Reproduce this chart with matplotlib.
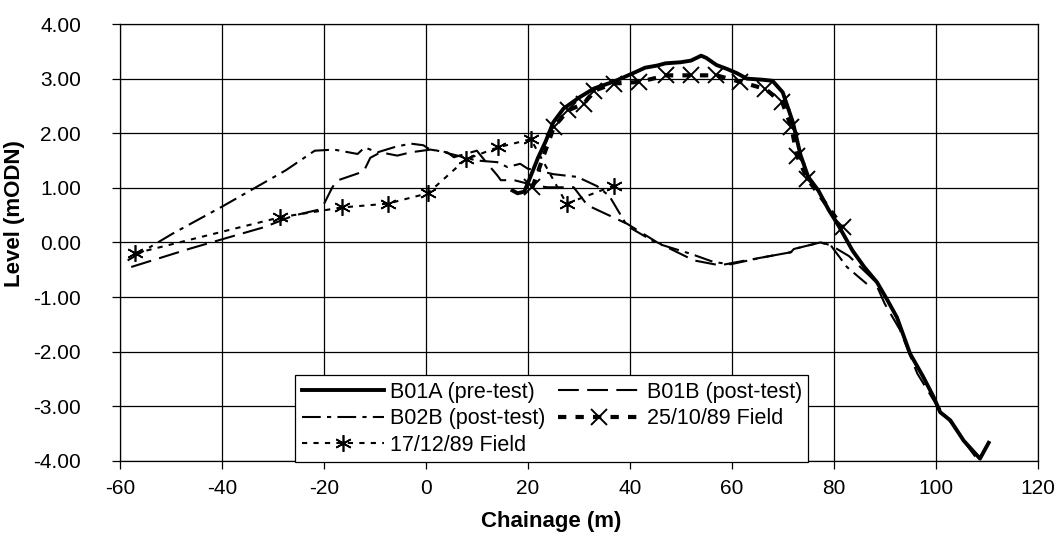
import numpy as np
import matplotlib.pyplot as plt

plt.rcParams['font.family'] = ['Liberation Sans', 'DejaVu Sans']
plt.rcParams['axes.unicode_minus'] = False

# B01A (pre-test) - thick solid
b01a_x = [17, 18, 19.3, 20.5, 22, 23.5, 25, 27, 30, 33, 37, 40.9, 43, 45.4, 47, 50, 52, 54, 55,
          57, 59, 61, 63, 66, 68, 70, 72, 73.5, 75, 77, 79, 81, 83.7, 86, 88.5, 90.5, 92.4, 95,
          97.5, 99.6, 100.9, 102.9, 105.5, 108.7, 110.4]
b01a_y = [0.95, 0.9, 0.93, 1.2, 1.55, 1.85, 2.2, 2.45, 2.65, 2.82, 2.95, 3.11, 3.2, 3.24, 3.28, 3.3,
          3.33, 3.42, 3.38, 3.25, 3.18, 3.1, 3.0, 2.98, 2.96, 2.75, 2.2, 1.6, 1.2, 0.95, 0.6, 0.3,
          -0.15, -0.45, -0.73, -1.05, -1.37, -2.04, -2.45, -2.83, -3.11, -3.26, -3.63, -3.96, -3.67]

# B01B (post-test) - long dash
b01b_x = [-57.8, -46.5, -38.4, -31.7, -26, -21, -19.9, -18.4, -17.5, -12.2, -10.9, -8.9, -5.6, -3,
          0.9, 4.2, 5.5, 10, 12, 14, 14.7, 17.3, 19, 21, 23.8, 29, 31.7, 39.5, 45.4, 52.6, 57.7,
          61, 66.3, 71.6, 72.2, 77.4, 79.4, 83, 88, 90, 93, 96.4, 100, 103, 106, 108]
b01b_y = [-0.45, -0.12, 0.1, 0.28, 0.49, 0.6, 0.72, 1.0, 1.13, 1.3, 1.55, 1.65, 1.59, 1.65,
          1.7, 1.65, 1.56, 1.68, 1.45, 1.23, 1.14, 1.14, 1.1, 1.05, 1.01, 1.01, 0.68, 0.34, 0.0,
          -0.33, -0.42, -0.36, -0.27, -0.18, -0.12, 0.0, -0.05, -0.25, -0.7, -1.12, -1.6, -2.4,
          -2.95, -3.3, -3.7, -3.95]

# B02B (post-test) - dash dot
b02b_x = [-58.5, -49.7, -39.9, -27.5, -21.8, -18, -13.4, -12, -9.5, -6, -3, -0.5, 0.5, 4.9, 10,
          14, 16, 18.5, 20, 21.9, 25, 29.7, 33.6, 36, 39.5, 45.4, 52, 56.5, 59.8, 66.3, 71.6, 72.2,
          77.4, 79.4, 82.6, 86.5]
b02b_y = [-0.33, 0.16, 0.66, 1.32, 1.68, 1.7, 1.62, 1.74, 1.65, 1.75, 1.81, 1.78, 1.72, 1.62, 1.5,
          1.47, 1.38, 1.44, 1.35, 1.32, 1.25, 1.2, 1.03, 0.85, 0.3, -0.02, -0.21, -0.36, -0.4,
          -0.27, -0.18, -0.12, 0.0, -0.05, -0.45, -0.76]

# 25/10/89 Field - thick dashed, x markers
f1_x = [20.9, 25.1, 27.9, 31.0, 33.0, 36.9, 41.9, 47.2, 52.1, 57.0, 61.7, 66.6, 69.9, 71.7, 72.8,
        74.8, 81.8]
f1_y = [1.01, 2.11, 2.42, 2.54, 2.78, 2.91, 2.94, 3.06, 3.06, 3.06, 2.94, 2.81, 2.57, 2.11, 1.59,
        1.17, 0.28]

# 17/12/89 Field - dotted, asterisk markers
f2_x = [-57, -28.6, -16.5, -7.5, 0.4, 7.8, 14.1, 20.6, 27.6, 36.9]
f2_y = [-0.2, 0.46, 0.64, 0.71, 0.9, 1.52, 1.74, 1.89, 0.71, 1.04]

fig = plt.figure(figsize=(10.62, 5.46), dpi=100)
ax = fig.add_axes([0.113, 0.156, 0.864, 0.800])

h1, = ax.plot(b01a_x, b01a_y, color='black', lw=2.8, ls='-', label='B01A (pre-test)')
h2, = ax.plot(b01b_x, b01b_y, color='black', lw=1.5, ls=(0, (10, 4)), label='B01B (post-test)')
h3, = ax.plot(b02b_x, b02b_y, color='black', lw=1.5, ls=(0, (9, 3, 2, 3)),
              label='B02B (post-test)')
h4, = ax.plot(f1_x, f1_y, color='black', lw=3.0, ls=(0, (2, 2.2)), marker='x', ms=11, mew=1.4,
              label='25/10/89 Field')
h5, = ax.plot(f2_x, f2_y, color='black', lw=1.5, ls=(0, (2.5, 3)), marker=(6, 2, 0), ms=12, mew=1.2,
              label='17/12/89 Field')

ax.set_xlim(-60, 120)
ax.set_ylim(-4, 4)
ax.set_xticks(np.arange(-60, 121, 20))
ax.set_yticks(np.arange(-4, 4.1, 1))
ax.set_yticklabels(['%.2f' % v for v in np.arange(-4, 4.1, 1)])
ax.grid(True, color='black', lw=0.9)
ax.set_axisbelow(True)
ax.tick_params(direction='out', length=6, width=0.9, labelsize=15, pad=7)
ax.tick_params(axis='y', pad=22)
for s in ax.spines.values():
    s.set_linewidth(0.9)

ax.set_xlabel('Chainage (m)', fontsize=16, fontweight='bold')
ax.set_ylabel('Level (mODN)', fontsize=16, fontweight='bold')
ax.xaxis.set_label_coords(0.4695, -0.114)
ax.yaxis.set_label_coords(-0.103, 0.565)

leg = ax.legend([h1, h3, h5, h2, h4],
                ['B01A (pre-test)', 'B02B (post-test)', '17/12/89 Field',
                 'B01B (post-test)', '25/10/89 Field'],
                ncol=2, loc='lower left', bbox_to_anchor=(0.191, -0.003), fontsize=15.5,
                frameon=True, fancybox=False, edgecolor='black', framealpha=1,
                handlelength=3.8, handletextpad=0.3, columnspacing=0.6, labelspacing=0.25,
                borderpad=0.3, borderaxespad=0)
leg.get_frame().set_linewidth(0.9)

plt.savefig('out.png', dpi=100)
